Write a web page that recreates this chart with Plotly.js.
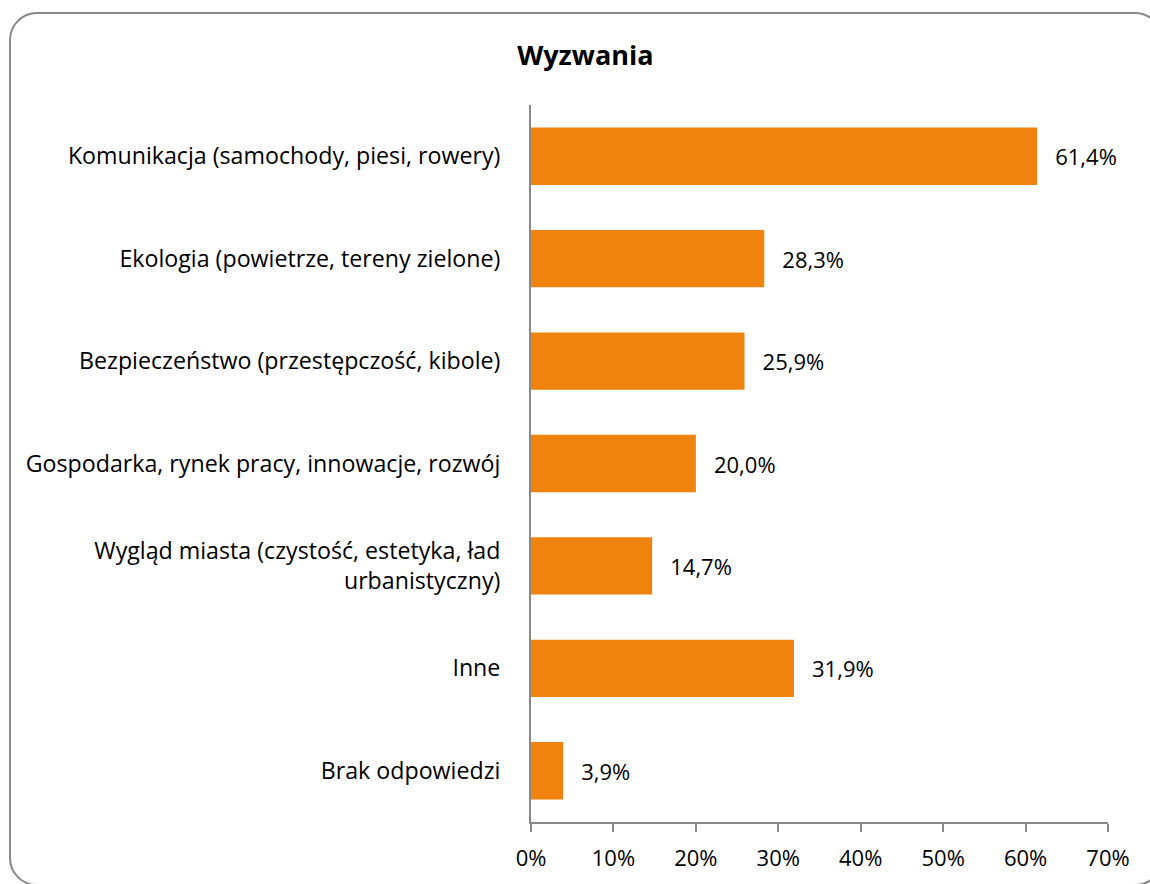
<!DOCTYPE html>
<html><head><meta charset="utf-8">
<script src="https://cdn.plot.ly/plotly-3.0.1.min.js"></script>
<style>
html,body{margin:0;padding:0;background:#fff;}
#wrap{position:relative;width:1150px;height:884px;overflow:hidden;}
#chart{position:absolute;left:0;top:0;width:1150px;height:884px;}
#frame{position:absolute;left:9px;top:12px;width:1150px;height:870px;border:2px solid #888;border-radius:28px;pointer-events:none;}
</style></head>
<body>
<div id="wrap"><div id="chart"></div><div id="frame"></div></div>
<script>
const categories = [
  "Komunikacja (samochody, piesi, rowery)",
  "Ekologia (powietrze, tereny zielone)",
  "Bezpieczeństwo (przestępczość, kibole)",
  "Gospodarka, rynek pracy, innowacje, rozwój",
  "Wygląd miasta (czystość, estetyka, ład<br>urbanistyczny)",
  "Inne",
  "Brak odpowiedzi"
];
const values = [61.4, 28.3, 25.9, 20.0, 14.7, 31.9, 3.9];
const xTickValues = [0, 10, 20, 30, 40, 50, 60, 70];
const xTickLabels = ["0%", "10%", "20%", "30%", "40%", "50%", "60%", "70%"];
const titleText = "Wyzwania";

const font = "Open Sans, sans-serif";
const labels = values.map(v => "\u00a0\u00a0\u2009" + v.toFixed(1).replace(".", ",") + "%");

Plotly.newPlot("chart", [{
  type: "bar",
  orientation: "h",
  y: categories,
  x: values,
  text: labels,
  textposition: "outside",
  cliponaxis: false,
  textfont: {family: font, size: 22, color: "#000"},
  marker: {color: "#F0820E", line: {width: 0}},
  hoverinfo: "none"
}], {
  width: 1150, height: 884,
  margin: {l: 531, r: 42, t: 105, b: 62},
  paper_bgcolor: "rgba(0,0,0,0)",
  plot_bgcolor: "rgba(0,0,0,0)",
  bargap: 0.44,
  showlegend: false,
  title: {text: "<b>" + titleText + "</b>", font: {family: font, size: 27, color: "#000"}, x: 0.509, xanchor: "center", y: 0.937, yanchor: "middle"},
  xaxis: {
    range: [0, 70], tickvals: xTickValues, ticktext: xTickLabels,
    showgrid: false, zeroline: false,
    showline: true, linecolor: "#888", linewidth: 2,
    ticks: "outside", ticklen: 8, tickwidth: 2, tickcolor: "#888",
    tickfont: {family: font, size: 22, color: "#000"},
    ticklabelstandoff: 8, fixedrange: true
  },
  yaxis: {
    autorange: "reversed", showgrid: false, zeroline: false,
    showline: true, linecolor: "#888", linewidth: 2,
    ticks: "", tickfont: {family: font, size: 23.2, color: "#000"},
    ticklabelstandoff: 24, fixedrange: true
  }
}, {staticPlot: true, displayModeBar: false});
</script>
</body></html>
